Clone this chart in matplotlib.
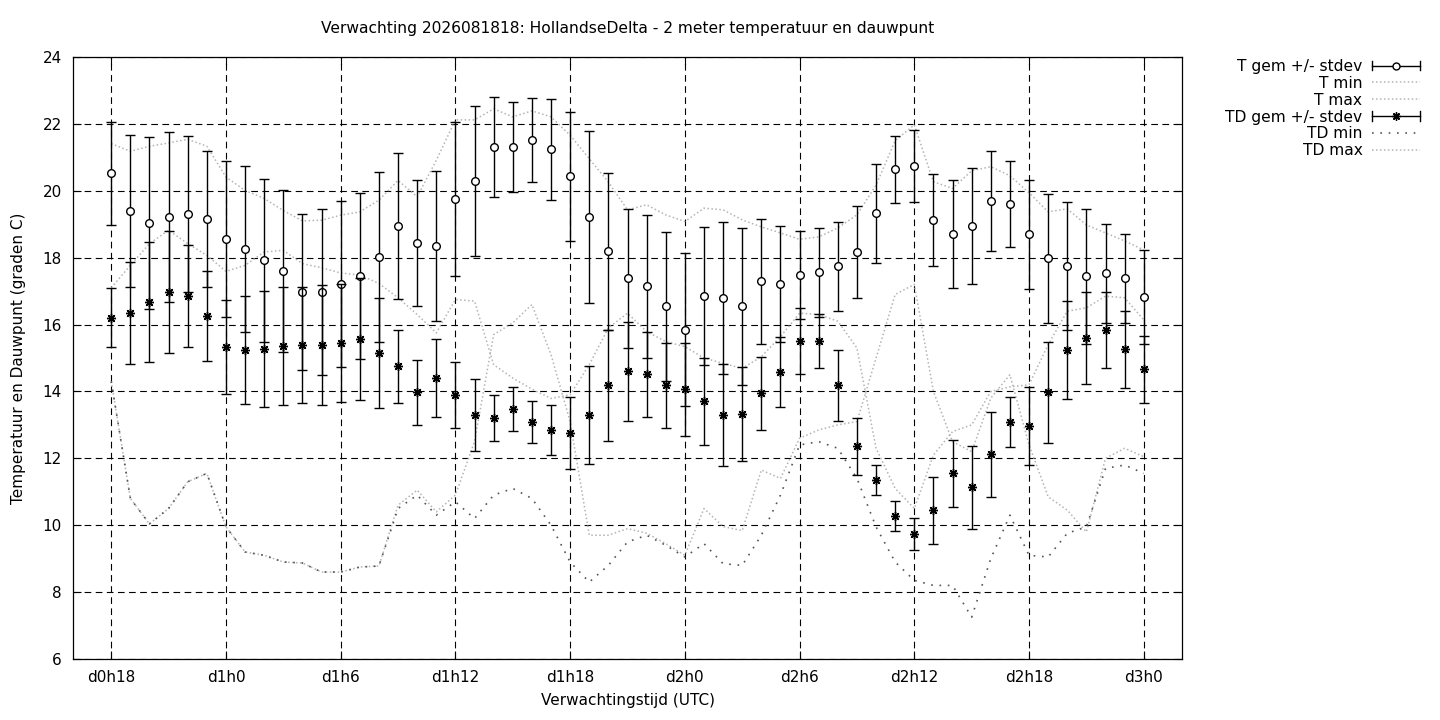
import matplotlib
matplotlib.use("Agg")
import matplotlib.pyplot as plt
import numpy as np
from matplotlib.legend_handler import HandlerBase
from matplotlib.lines import Line2D

# lead time in hours after d0h0
lead_hours = np.arange(18, 73)

t_mean = [20.52, 19.40, 19.04, 19.21, 19.30, 19.15, 18.56, 18.25, 17.92, 17.59,
          16.97, 16.97, 17.21, 17.45, 18.01, 18.94, 18.43, 18.34, 19.75, 20.29,
          21.30, 21.30, 21.51, 21.24, 20.43, 19.21, 18.19, 17.38, 17.14, 16.54,
          15.85, 16.85, 16.79, 16.54, 17.29, 17.21, 17.48, 17.56, 17.74, 18.16,
          19.33, 20.64, 20.73, 19.12, 18.70, 18.94, 19.69, 19.60, 18.70, 17.98,
          17.74, 17.44, 17.53, 17.38, 16.82]
t_std = [1.55, 2.28, 2.58, 2.55, 2.33, 2.03, 2.32, 2.48, 2.44, 2.42,
         2.33, 2.48, 2.47, 2.49, 2.54, 2.18, 1.88, 2.24, 2.30, 2.24,
         1.50, 1.35, 1.26, 1.51, 1.94, 2.57, 2.35, 2.09, 2.15, 2.24,
         2.28, 2.06, 2.28, 2.36, 1.86, 1.73, 1.32, 1.32, 1.33, 1.38,
         1.48, 1.00, 1.08, 1.37, 1.61, 1.73, 1.50, 1.28, 1.63, 1.93,
         1.91, 2.01, 1.47, 1.34, 1.40]
t_min = [14.3, 10.8, 10.04, 10.5, 11.3, 11.55, 9.95, 9.2, 9.1, 8.9,
         8.87, 8.6, 8.6, 8.75, 8.78, 10.6, 11.05, 10.4, 10.9, 12.5,
         15.7, 16.05, 16.6, 15.1, 13.1, 9.7, 9.7, 9.9, 9.76, 9.45,
         9.1, 10.5, 9.96, 9.84, 11.65, 11.4, 12.6, 12.85, 13.0, 13.1,
         15.0, 16.9, 17.2, 14.0, 12.5, 12.2, 13.8, 14.5, 12.4, 10.85,
         10.45, 9.8, 12.0, 12.3, 12.05]
t_max = [21.41, 21.18, 21.33, 21.43, 21.54, 21.33, 20.41, 20.01, 19.77, 19.41,
         19.10, 19.12, 19.27, 19.37, 19.72, 20.31, 19.82, 20.91, 22.12, 22.12,
         22.45, 22.21, 22.39, 22.21, 21.66, 20.96, 20.26, 19.43, 19.58, 19.28,
         19.08, 19.48, 19.43, 19.13, 18.92, 18.74, 18.55, 18.62, 18.89, 19.28,
         20.17, 21.5, 21.97, 20.27, 20.07, 20.6, 20.72, 20.45, 19.94, 19.37,
         19.46, 18.98, 18.74, 18.50, 18.23]

td_mean = [16.20, 16.35, 16.67, 16.97, 16.86, 16.26, 15.33, 15.23, 15.26, 15.35,
           15.38, 15.38, 15.45, 15.56, 15.15, 14.75, 13.98, 14.40, 13.89, 13.29,
           13.21, 13.47, 13.08, 12.84, 12.75, 13.29, 14.18, 14.60, 14.51, 14.18,
           14.06, 13.70, 13.29, 13.32, 13.94, 14.57, 15.51, 15.51, 14.18, 12.36,
           11.35, 10.28, 9.74, 10.45, 11.55, 11.13, 12.12, 13.09, 12.96, 13.98,
           15.24, 15.59, 15.84, 15.26, 14.66]
td_std = [0.88, 1.52, 1.79, 1.82, 1.53, 1.34, 1.41, 1.61, 1.73, 1.77,
          1.73, 1.79, 1.77, 1.82, 1.64, 1.09, 0.97, 1.17, 0.98, 1.08,
          0.68, 0.66, 0.63, 0.74, 1.07, 1.47, 1.67, 1.48, 1.28, 1.28,
          1.38, 1.29, 1.52, 1.41, 1.09, 1.05, 0.99, 0.80, 1.06, 0.85,
          0.45, 0.45, 0.47, 1.00, 1.00, 1.24, 1.27, 0.75, 1.17, 1.51,
          1.47, 1.38, 1.14, 1.15, 1.00]
td_min = [14.3, 10.8, 10.04, 10.5, 11.3, 11.55, 9.95, 9.2, 9.1, 8.9,
          8.87, 8.6, 8.6, 8.75, 8.78, 10.5, 10.9, 10.3, 10.7, 10.2,
          10.9, 11.1, 10.8, 10.0, 8.9, 8.3, 8.8, 9.5, 9.7, 9.4,
          9.05, 9.45, 8.85, 8.8, 9.7, 10.9, 12.4, 12.5, 12.3, 11.4,
          9.95, 8.9, 8.35, 8.2, 8.2, 7.25, 9.0, 10.3, 9.1, 9.05,
          9.76, 9.95, 11.7, 11.8, 11.55]
td_max = [17.1, 17.77, 18.42, 18.82, 18.42, 18.07, 17.59, 17.77, 18.17, 18.22,
          17.82, 17.70, 17.54, 17.48, 17.23, 16.8, 16.3, 15.75, 16.75, 16.7,
          14.8, 14.4, 14.07, 13.79, 13.9, 14.8, 15.9, 16.34, 15.79, 15.49,
          15.34, 15.0, 14.84, 14.69, 15.04, 15.64, 16.34, 16.3, 16.1, 15.3,
          12.3, 11.1, 10.5, 12.1, 12.8, 13.0, 14.0, 14.14, 14.2, 15.4,
          16.4, 16.5, 16.85, 16.8, 16.14]

tick_hours = [18, 24, 30, 36, 42, 48, 54, 60, 66, 72]
tick_labels = ["d0h18", "d1h0", "d1h6", "d1h12", "d1h18",
               "d2h0", "d2h6", "d2h12", "d2h18", "d3h0"]

LIGHT = "#b4b4b4"
DARK = "#555555"


class HandlerErrKey(HandlerBase):
    # gnuplot style key sample: |--o--|
    def create_artists(self, legend, orig_handle, xdescent, ydescent,
                       width, height, fontsize, trans):
        y = height / 2 - ydescent
        x0, x1 = -xdescent, width - xdescent
        cap = 3.5
        artists = [
            Line2D([x0, x1], [y, y], color="black", lw=1),
            Line2D([x0, x0], [y - cap, y + cap], color="black", lw=1),
            Line2D([x1, x1], [y - cap, y + cap], color="black", lw=1),
            Line2D([(x0 + x1) / 2], [y], marker=orig_handle.get_marker(),
                   ms=orig_handle.get_markersize(),
                   mfc=orig_handle.get_markerfacecolor(),
                   mec="black", mew=orig_handle.get_markeredgewidth(), ls="none"),
        ]
        for a in artists:
            a.set_transform(trans)
        return artists


plt.rcParams.update({"font.family": "DejaVu Sans", "font.size": 11})

fig = plt.figure(figsize=(14.4, 7.2), dpi=100)
ax = fig.add_axes([73 / 1440, 1 - 659 / 720, (1182 - 73) / 1440, (659 - 57) / 720])

ax.errorbar(lead_hours, t_mean, yerr=t_std, fmt="o", ms=5.5, mfc="white",
            mec="black", mew=1, ecolor="black", elinewidth=1, capsize=3.6,
            capthick=1, zorder=4)
ax.plot(lead_hours, t_min, color=LIGHT, lw=1.1, ls=(0, (1, 1.6)), zorder=3)
ax.plot(lead_hours, t_max, color=LIGHT, lw=1.1, ls=(0, (1, 1.6)), zorder=3)
ax.errorbar(lead_hours, td_mean, yerr=td_std, fmt="none", ecolor="black",
            elinewidth=1, capsize=3.6, capthick=1, zorder=5)
ax.plot(lead_hours, td_mean, ls="none", marker=(8, 2, 0), ms=6.5, mec="black",
        mew=1, zorder=6)
ax.plot(lead_hours, td_min, color=DARK, lw=1.2, ls=(0, (1, 4)), zorder=3)
ax.plot(lead_hours, td_max, color=LIGHT, lw=1.1, ls=(0, (1, 1.6)), zorder=3)

ax.set_xlim(16, 74)
ax.set_ylim(6, 24)
ax.set_yticks(np.arange(6, 25, 2))
ax.set_xticks(tick_hours)
ax.set_xticklabels(tick_labels)
ax.tick_params(direction="in", length=6, width=0.8, top=True, right=True,
               labelsize=11, pad=8)
ax.grid(True, color="black", lw=0.8, ls=(0, (6, 4)))
ax.set_axisbelow(True)
for s in ax.spines.values():
    s.set_linewidth(0.9)

ax.set_xlabel("Verwachtingstijd (UTC)", fontsize=11, labelpad=6)
ax.set_ylabel("Temperatuur en Dauwpunt (graden C)", fontsize=11, labelpad=12)
fig.text(628 / 1440, 1 - 29 / 720, "Verwachting 2026081818: HollandseDelta - "
         "2 meter temperatuur en dauwpunt", ha="center", va="center", fontsize=11.2)

h_t = Line2D([], [], marker="o", ms=5, mfc="white", mew=1)
h_td = Line2D([], [], marker=(8, 2, 0), ms=6, mfc="black", mew=1)
h_tmin = Line2D([], [], color=LIGHT, lw=1.1, ls=(0, (1, 1.6)))
h_tmax = Line2D([], [], color=LIGHT, lw=1.1, ls=(0, (1, 1.6)))
h_tdmin = Line2D([], [], color=DARK, lw=1.2, ls=(0, (1, 4)))
h_tdmax = Line2D([], [], color=LIGHT, lw=1.1, ls=(0, (1, 1.6)))

leg = fig.legend([h_t, h_tmin, h_tmax, h_td, h_tdmin, h_tdmax],
                 ["T gem +/- stdev", "T min", "T max", "TD gem +/- stdev",
                  "TD min", "TD max"],
                 handler_map={h_t: HandlerErrKey(), h_td: HandlerErrKey()},
                 loc="upper right", bbox_to_anchor=(1420 / 1440, 1 - 59 / 720),
                 frameon=False, markerfirst=False, handlelength=3.1,
                 handletextpad=0.6, labelspacing=0.12, borderpad=0,
                 borderaxespad=0, fontsize=11.2)

fig.savefig("out.png", dpi=100)
